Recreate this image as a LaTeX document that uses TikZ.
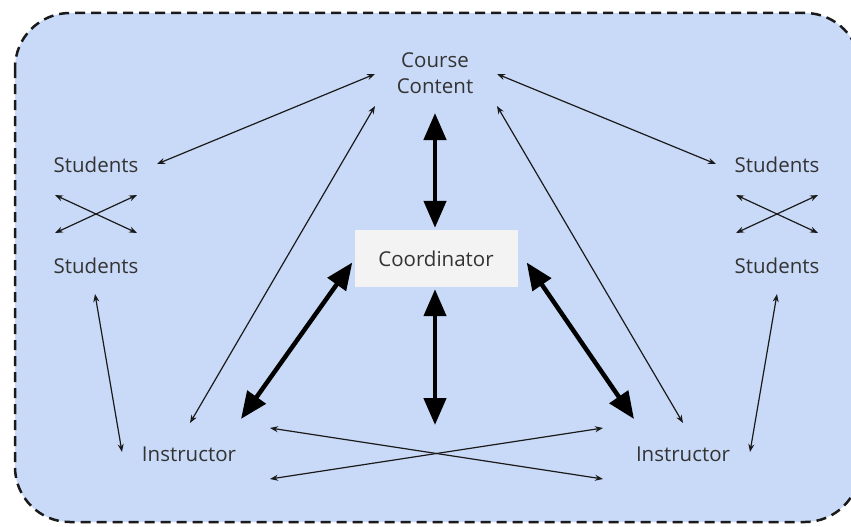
\documentclass[tikz,border=0pt]{standalone}
\usepackage{fontspec}
\setmainfont{Open Sans}
\usetikzlibrary{arrows.meta,calc}
\definecolor{bgblue}{HTML}{C9DAF8}
\definecolor{boxgray}{HTML}{F3F3F3}
\definecolor{txt}{HTML}{333333}
\definecolor{ln}{HTML}{1A1A1A}
\tikzset{
  lbl/.style={text=txt,font=\fontsize{20.5}{26}\selectfont,align=center,inner sep=0pt},
  thin/.style={draw=ln,line width=1.2pt,{Stealth[length=8pt,width=6pt]}-{Stealth[length=8pt,width=6pt]}},
  thick/.style={draw=black,line width=4.5pt,{Triangle[length=27pt,width=22pt]}-{Triangle[length=27pt,width=22pt]}},
}
\begin{document}
\begin{tikzpicture}[x=1pt,y=-1pt]
\useasboundingbox (0,0) rectangle (851,527);
\fill[white] (0,0) rectangle (851,527);
\draw[fill=bgblue,draw=ln,line width=2.5pt,dash pattern=on 10pt off 6pt,rounded corners=55pt] (15,13) rectangle (860,522);
\node[lbl] (cc) at (435,73) {Course\\Content};
\node[lbl] (stl) at (96,165) {Students};
\node[lbl] (sbl) at (96,266) {Students};
\node[lbl] (str) at (777,165) {Students};
\node[lbl] (sbr) at (777,266) {Students};
\node[lbl,fill=boxgray,minimum width=163pt,minimum height=57pt] (co) at (436,258.5) {Coordinator};
\node[lbl] (il) at (189,454) {Instructor};
\node[lbl] (ir) at (683,454) {Instructor};
\coordinate (mid) at (435,425);
% thin arrows
\draw[thin] ($(cc)+(-60,1)$) -- ($(stl)+(61,-1)$);
\draw[thin] ($(cc)+(62,1)$) -- ($(str)+(-61,-1)$);
\draw[thin] ($(cc)+(-60,33)$) -- ($(il)+(1,-31)$);
\draw[thin] ($(cc)+(62,33)$) -- ($(ir)+(0,-31)$);
\draw[thin] ($(stl)+(-41,30)$) -- ($(sbl)+(41,-33)$);
\draw[thin] ($(stl)+(41,30)$) -- ($(sbl)+(-41,-33)$);
\draw[thin] ($(str)+(-41,30)$) -- ($(sbr)+(41,-33)$);
\draw[thin] ($(str)+(41,30)$) -- ($(sbr)+(-41,-33)$);
\draw[thin] ($(sbl)+(-1,28)$) -- ($(il)+(-67,-2)$);
\draw[thin] ($(sbr)+(0,28)$) -- ($(ir)+(67,-2)$);
\draw[thin] ($(il)+(81,-26)$) -- ($(ir)+(-80,25)$);
\draw[thin] ($(il)+(81,25)$) -- ($(ir)+(-80,-26)$);
% thick arrows
\draw[thick] ($(cc)+(0,40)$) -- ($(co.north)+(-1,-2)$);
\draw[thick] ($(co.south)+(-1,2)$) -- (mid);
\draw[thick] ($(co.west)+(-2,4)$) -- ($(il)+(52,-35)$);
\draw[thick] ($(co.east)+(9,4)$) -- ($(ir)+(-49,-35)$);
\end{tikzpicture}
\end{document}
